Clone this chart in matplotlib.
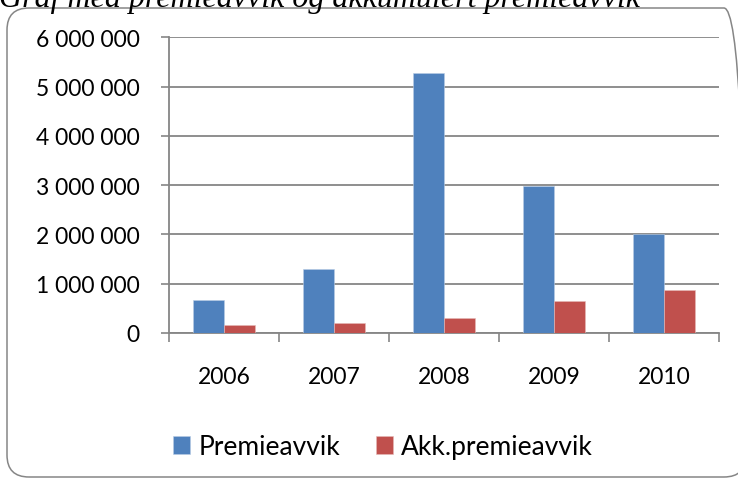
import numpy as np
import matplotlib.pyplot as plt
from matplotlib.patches import FancyBboxPatch
from matplotlib.ticker import FuncFormatter

years = ["2006", "2007", "2008", "2009", "2010"]
premieavvik = [660000, 1300000, 5280000, 2990000, 2000000]
akk_premieavvik = [170000, 210000, 310000, 655000, 870000]

blue = "#4F81BD"
red = "#C0504D"
grey = "#868686"

plt.rcParams['font.family'] = ['Lato', 'DejaVu Sans']

W, H = 738, 481
fig = plt.figure(figsize=(W / 100, H / 100), dpi=100)

# rundet ramme rundt diagrammet (i tommer, slik at hjørnene blir runde)
ramme = FancyBboxPatch((0.07, 0.03), 7.39, 4.69,
                       boxstyle="round,pad=0,rounding_size=0.22",
                       transform=fig.dpi_scale_trans, fill=False,
                       edgecolor=grey, linewidth=1.1)
fig.patches.append(ramme)

fig.text(-0.002, 1 - 6.5 / H, "Graf med premieavvik og akkumulert premieavvik",
         family=['Liberation Serif'], style='italic', fontsize=23,
         va='baseline', ha='left')

ax = fig.add_axes([169 / W, (H - 334) / H, 550 / W, (334 - 38.3) / H])

x = np.arange(len(years)) + 0.5
bw = 1 / 3.5
ax.bar(x - bw / 2, premieavvik, bw, color=blue, edgecolor="#b9cde5",
       linewidth=0.4, label="Premieavvik", zorder=3)
ax.bar(x + bw / 2, akk_premieavvik, bw, color=red, edgecolor="#e6b9b8",
       linewidth=0.4, label="Akk.premieavvik", zorder=3)

ax.set_xlim(0, len(years))
ax.set_ylim(0, 6000000)
ax.set_yticks(np.arange(0, 6000001, 1000000))
ax.yaxis.set_major_formatter(FuncFormatter(lambda v, p: f"{int(v):,}".replace(",", " ")))
ax.set_xticks(np.arange(0, len(years) + 1))
ax.set_xticklabels([])
ax.set_xticks(x, minor=True)
ax.set_xticklabels(years, minor=True)
ax.tick_params(axis='x', which='minor', length=0, pad=24, labelsize=16.5)
ax.tick_params(axis='x', which='major', length=6.5, color=grey, width=1.2)
ax.tick_params(axis='y', length=6, color=grey, width=1.2, labelsize=16.5, pad=15)

ax.grid(axis='y', color=grey, linewidth=1.3, zorder=0)
for s in ['top', 'right']:
    ax.spines[s].set_visible(False)
for s in ['left', 'bottom']:
    ax.spines[s].set_color(grey)
    ax.spines[s].set_linewidth(1.3)

fig.legend(loc='center', bbox_to_anchor=(383 / W, 1 - 447.5 / H), ncol=2,
           frameon=False, fontsize=19, handlelength=0.65, handleheight=0.65,
           handletextpad=0.3, columnspacing=1.35)

fig.savefig("out.png", dpi=100)
